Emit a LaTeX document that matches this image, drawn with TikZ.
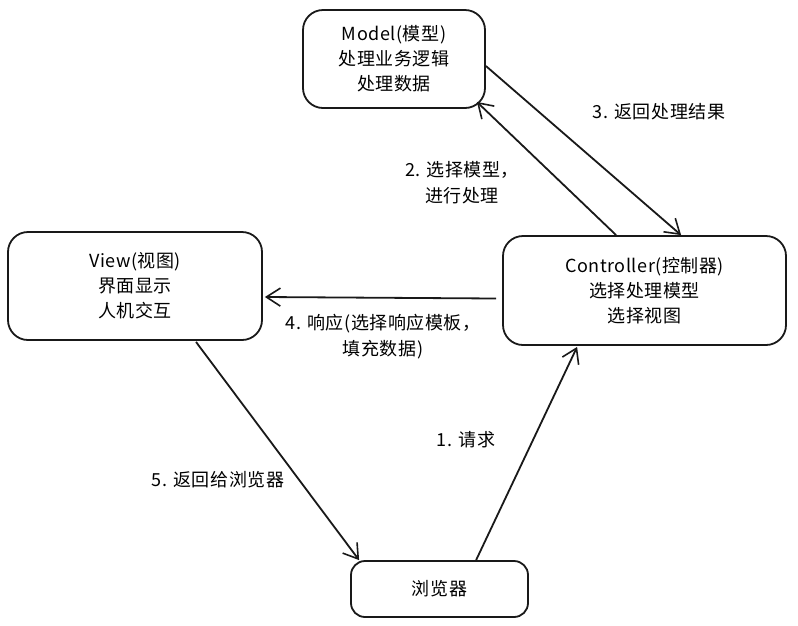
\documentclass[tikz,border=0pt]{standalone}
\usepackage{fontspec}
\setmainfont{Noto Sans CJK SC}[LetterSpace=3]
\usetikzlibrary{arrows.meta,calc}
\begin{document}
\begin{tikzpicture}[x=1pt,y=-1pt,
  box/.style={draw=black!90,line width=1.8pt,rounded corners=20pt,align=center,
    font=\fontsize{18pt}{25pt}\selectfont,inner sep=0pt},
  lbl/.style={align=center,font=\fontsize{18pt}{26pt}\selectfont,inner sep=0pt},
  conn/.style={draw=black!90,line width=1.8pt,-{Straight Barb[length=14pt,width=18pt,line width=1.6pt]}}]
\useasboundingbox[fill=white] (0,0) rectangle (798,625);
\node[box,minimum width=182pt,minimum height=98pt] (model) at (394,59) {Model(模型)\\处理业务逻辑\\处理数据};
\node[box,minimum width=283pt,minimum height=109pt] (ctrl) at (644.5,290.5) {Controller(控制器)\\选择处理模型\\选择视图};
\node[box,minimum width=254pt,minimum height=108pt] (view) at (135,286) {View(视图)\\界面显示\\人机交互};
\node[box,minimum width=177pt,minimum height=56pt,rounded corners=14pt] (brow) at (439.5,589) {浏览器};
\draw[conn] ($(model.east)+(0,7)$) -- ($(ctrl.north west)+(179,0)$);
\draw[conn] ($(ctrl.north west)+(114,0)$) -- ($(model.south east)+(-9,-7)$);
\draw[conn] ($(ctrl.west)+(-6,8)$) -- ($(view.east)+(2,11)$);
\draw[conn] ($(view.south)+(61,1)$) -- ($(brow.north west)+(9,0)$);
\draw[conn] ($(brow.north west)+(126,0)$) -- ($(ctrl.south west)+(75,1)$);
\node[lbl] (l3) at (659,112) {3. 返回处理结果};
\node[lbl] (l2) at (462,183) {2. 选择模型，\\进行处理};
\node[lbl] (l4) at (383,337) {4. 响应(选择响应模板，\\填充数据)};
\node[lbl] (l1) at (466,440) {1. 请求};
\node[lbl] (l5) at (218,480) {5. 返回给浏览器};
\end{tikzpicture}
\end{document}
